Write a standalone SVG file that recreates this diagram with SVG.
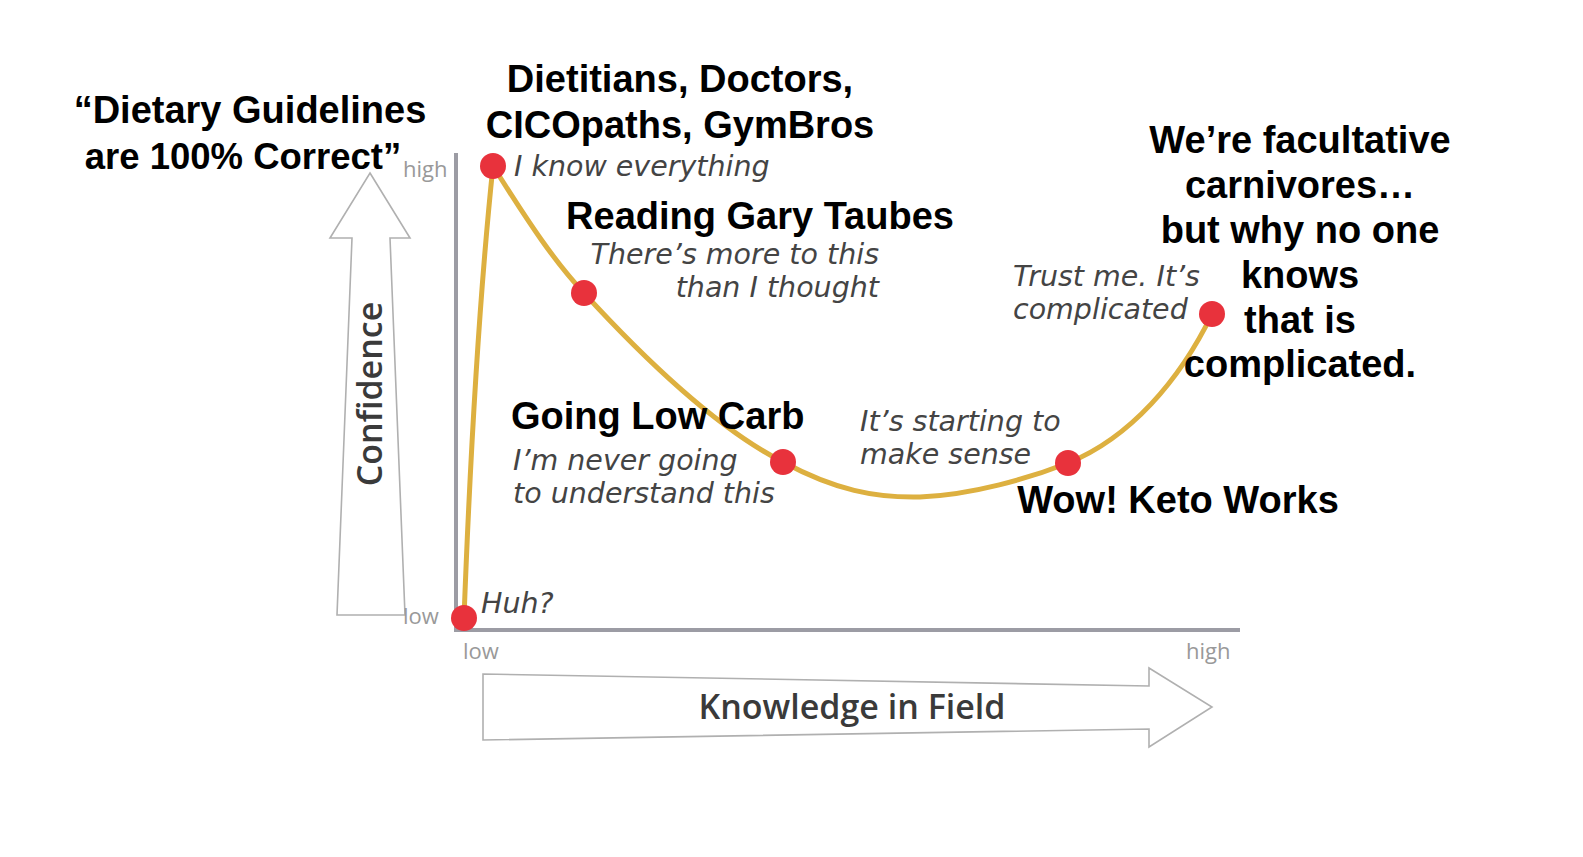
<svg xmlns="http://www.w3.org/2000/svg" width="1583" height="857" viewBox="0 0 1583 857">
<style>
.bold{font-family:"Liberation Sans",Arial,sans-serif;font-weight:bold;font-size:38px;fill:#000}
.it{font-family:"DejaVu Sans",Verdana,sans-serif;font-style:italic;font-size:28.5px;fill:#444}
.tick{font-family:"Open Sans","DejaVu Sans",sans-serif;font-size:22px;fill:#999}
.axlabel{font-family:"Open Sans","DejaVu Sans",sans-serif;font-weight:600;font-size:34px;fill:#3a3a3a}
.bigarrow{fill:#fff;stroke:#b0b0b0;stroke-width:1.6}
.axis{stroke:#9c9ca4;stroke-width:4;fill:none}
.curve{stroke:#ddb040;stroke-width:5;fill:none;stroke-linecap:round}
.dot{fill:#e8323c}
</style>
<rect width="1583" height="857" fill="#fff"/>
<g id="confidence-arrow">
<path class="bigarrow" d="M370,173 L410,238 L390,238 L405,615 L337,615 L352,238 L330,238 Z"/>
<text class="axlabel" transform="translate(382,394) rotate(-90)" text-anchor="middle">Confidence</text>
</g>
<g id="knowledge-arrow">
<path class="bigarrow" d="M483,674 L1149,686 L1149,668 L1212,707 L1149,747 L1149,729 L483,740 Z"/>
<text class="axlabel" x="852" y="719" text-anchor="middle">Knowledge in Field</text>
</g>
<g id="axes">
<line class="axis" x1="456" y1="153" x2="456" y2="630"/>
<line class="axis" x1="454" y1="630" x2="1240" y2="630"/>
<text class="tick" x="403" y="177">high</text>
<text class="tick" x="403" y="624">low</text>
<text class="tick" x="463" y="659">low</text>
<text class="tick" x="1186" y="659">high</text>
</g>
<g id="connectors">
<path class="curve" d="M464,618 C470,460 480,290 493,166 C530,225 555,262 584,293 C650,365 720,430 783,462 C835,490 875,498 920,497 C972,495 1030,478 1068,463 C1130,438 1180,380 1212,314"/>
</g>
<g id="node-huh">
<circle class="dot" cx="464" cy="618" r="13"/>
<text class="it" x="481" y="613">Huh?</text>
</g>
<g id="node-guidelines">
<text class="bold" x="250" y="123" text-anchor="middle">“Dietary Guidelines</text>
<text class="bold" x="243" y="169" text-anchor="middle" style="font-size:36.5px">are 100% Correct”</text>
</g>
<g id="node-peak">
<text class="bold" x="680" y="92" text-anchor="middle">Dietitians, Doctors,</text>
<text class="bold" x="680" y="138" text-anchor="middle">CICOpaths, GymBros</text>
<circle class="dot" cx="493" cy="166" r="13"/>
<text class="it" x="514" y="176">I know everything</text>
</g>
<g id="node-taubes">
<text class="bold" x="760" y="229" text-anchor="middle">Reading Gary Taubes</text>
<text class="it" x="879" y="264" text-anchor="end">There’s more to this</text>
<text class="it" x="879" y="297" text-anchor="end">than I thought</text>
<circle class="dot" cx="584" cy="293" r="13"/>
</g>
<g id="node-lowcarb">
<text class="bold" x="511" y="429">Going Low Carb</text>
<text class="it" x="513" y="470">I’m never going</text>
<text class="it" x="513" y="503">to understand this</text>
<circle class="dot" cx="783" cy="462" r="13"/>
</g>
<g id="node-keto">
<text class="it" x="860" y="431">It’s starting to</text>
<text class="it" x="860" y="464">make sense</text>
<circle class="dot" cx="1068" cy="463" r="13"/>
<text class="bold" x="1178" y="513" text-anchor="middle">Wow! Keto Works</text>
</g>
<g id="node-carnivore">
<text class="it" x="1013" y="286">Trust me. It’s</text>
<text class="it" x="1013" y="319">complicated</text>
<circle class="dot" cx="1212" cy="314" r="13"/>
<text class="bold" x="1300" y="153" text-anchor="middle">We’re facultative</text>
<text class="bold" x="1300" y="198" text-anchor="middle">carnivores…</text>
<text class="bold" x="1300" y="243" text-anchor="middle">but why no one</text>
<text class="bold" x="1300" y="288" text-anchor="middle">knows</text>
<text class="bold" x="1300" y="333" text-anchor="middle">that is</text>
<text class="bold" x="1300" y="377" text-anchor="middle">complicated.</text>
</g>
</svg>
